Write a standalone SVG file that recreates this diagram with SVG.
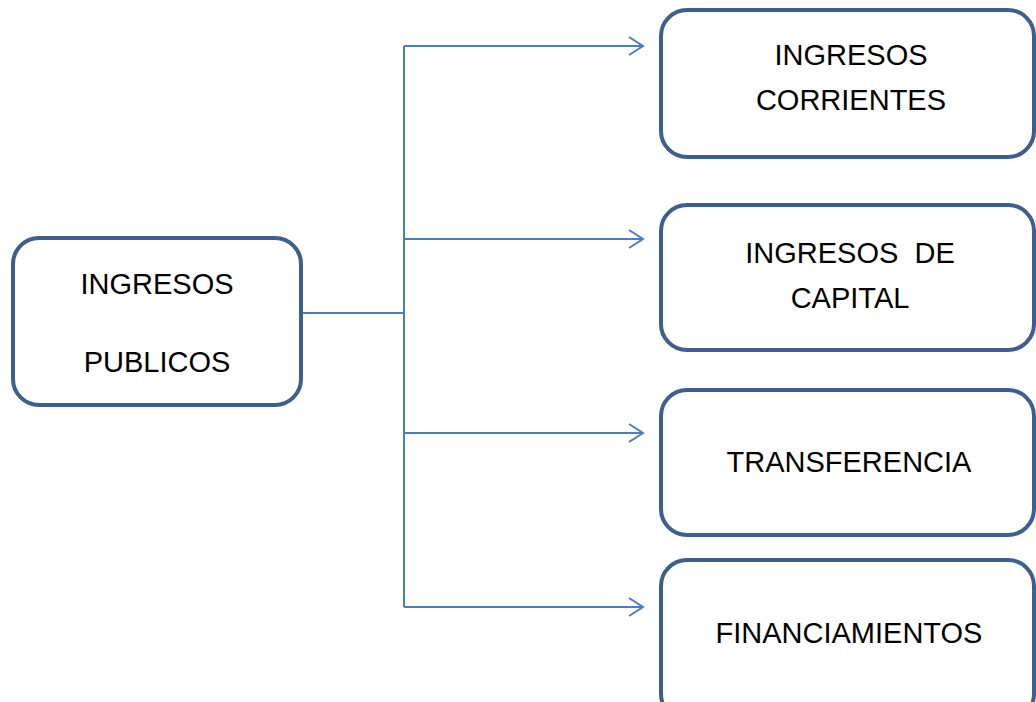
<svg xmlns="http://www.w3.org/2000/svg" width="1036" height="702" viewBox="0 0 1036 702">
<style>
.box{fill:#fff;stroke:#3C5F8E;stroke-width:4}
.lbl{font-family:"Liberation Sans",Arial,sans-serif;font-size:29px;fill:#000;text-anchor:middle}
.con{fill:none;stroke:#4A7EBF;stroke-width:2}
</style>
<defs>
<marker id="arr" markerWidth="20" markerHeight="20" refX="15" refY="10" orient="auto" markerUnits="userSpaceOnUse">
<path d="M1,1 L15,10 L1,19" fill="none" stroke="#4A7EBF" stroke-width="2"/>
</marker>
</defs>
<rect width="1036" height="702" fill="#fff"/>
<g id="connectors">
<path class="con" d="M301,313 H404"/>
<path class="con" d="M404,46 V607"/>
<path class="con" d="M404,46 H643" marker-end="url(#arr)"/>
<path class="con" d="M404,239 H643" marker-end="url(#arr)"/>
<path class="con" d="M404,433 H643" marker-end="url(#arr)"/>
<path class="con" d="M404,607 H643" marker-end="url(#arr)"/>
</g>
<g id="ingresos-publicos">
<rect class="box" x="13" y="238" width="288" height="167" rx="26"/>
<text class="lbl" x="157" y="294">INGRESOS</text>
<text class="lbl" x="157" y="372">PUBLICOS</text>
</g>
<g id="ingresos-corrientes">
<rect class="box" x="661" y="10" width="373" height="147" rx="26"/>
<text class="lbl" x="851" y="65">INGRESOS</text>
<text class="lbl" x="851" y="110">CORRIENTES</text>
</g>
<g id="ingresos-capital">
<rect class="box" x="661" y="205" width="373" height="145" rx="26"/>
<text class="lbl" x="850" y="263" xml:space="preserve">INGRESOS  DE</text>
<text class="lbl" x="850" y="308">CAPITAL</text>
</g>
<g id="transferencia">
<rect class="box" x="661" y="390" width="373" height="145" rx="26"/>
<text class="lbl" x="849" y="472">TRANSFERENCIA</text>
</g>
<g id="financiamientos">
<rect class="box" x="661" y="560" width="373" height="160" rx="26"/>
<text class="lbl" x="849" y="643">FINANCIAMIENTOS</text>
</g>
</svg>
